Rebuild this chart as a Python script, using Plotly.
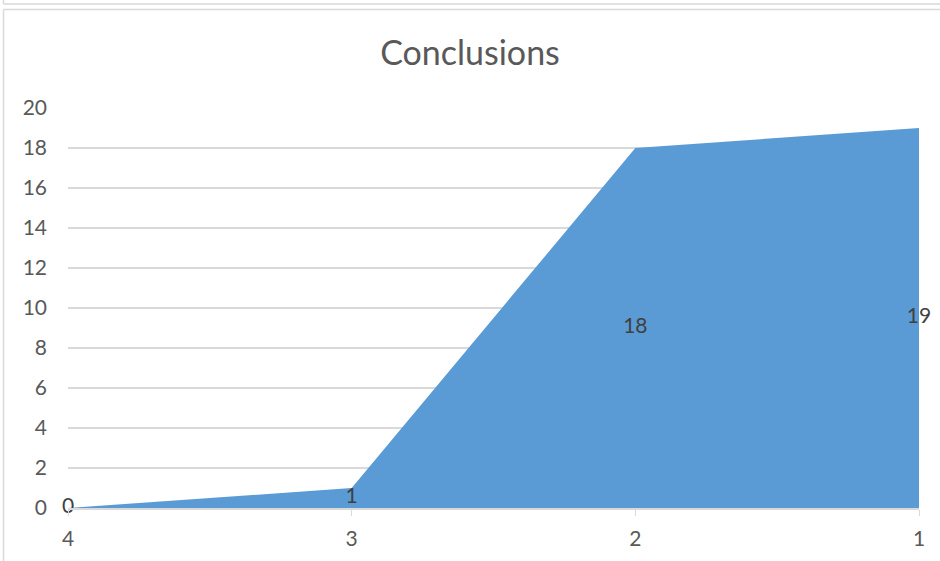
import plotly.graph_objects as go

# Category order along the x axis and the plotted values
categories = ["4", "3", "2", "1"]
values = [0, 1, 18, 19]
y_ticks = [0, 2, 4, 6, 8, 10, 12, 14, 16, 18, 20]

W, H = 940, 561
L, R, T, B = 68, 21, 108, 53
plot_w = W - L - R
plot_h = H - T - B

x_pos = list(range(len(categories)))

GRID = "#D9D9D9"
TEXT = "#595959"
FILL = "#5B9BD5"
FONT = "Lato, Calibri, 'Liberation Sans', sans-serif"


def px_x(px):
    return (px - L) / plot_w


def px_y(py):
    return (H - B - py) / plot_h


fig = go.Figure()
fig.add_trace(go.Scatter(
    x=x_pos, y=values, mode="lines", fill="tozeroy",
    line=dict(color=FILL, width=0), fillcolor=FILL,
    hoverinfo="skip", showlegend=False,
))
# Data labels sit at the vertical middle of the filled area
fig.add_trace(go.Scatter(
    x=x_pos, y=[v / 2 for v in values], mode="text",
    text=[str(v) for v in values], textposition="middle center",
    textfont=dict(family=FONT, size=21, color="#404040"),
    hoverinfo="skip", showlegend=False, cliponaxis=False,
))

shapes = [
    # outer chart frame
    dict(type="line", xref="paper", yref="paper", x0=px_x(3.5), x1=px_x(3.5),
         y0=px_y(9.5), y1=px_y(570), line=dict(color=GRID, width=1.5)),
    dict(type="line", xref="paper", yref="paper", x0=px_x(3.5), x1=px_x(950),
         y0=px_y(9.5), y1=px_y(9.5), line=dict(color=GRID, width=1.5)),
    dict(type="line", xref="paper", yref="paper", x0=px_x(3.5), x1=px_x(950),
         y0=px_y(4), y1=px_y(4), line=dict(color=GRID, width=1.5)),
    dict(type="line", xref="paper", yref="paper", x0=px_x(3.5), x1=px_x(3.5),
         y0=px_y(-5), y1=px_y(4), line=dict(color=GRID, width=1.5)),
]

fig.update_layout(
    width=W, height=H,
    margin=dict(l=L, r=R, t=T, b=B),
    paper_bgcolor="white", plot_bgcolor="white",
    title=dict(text="Conclusions", x=0.5, xanchor="center",
               y=1 - 53 / H, yanchor="middle",
               font=dict(family=FONT, size=34, color=TEXT)),
    xaxis=dict(range=[0, 3], tickmode="array", tickvals=x_pos, ticktext=categories,
               showgrid=False, zeroline=False, showline=True, linecolor=GRID,
               linewidth=1.5, ticks="outside", ticklen=6, tickcolor=GRID,
               tickfont=dict(family=FONT, size=21, color=TEXT), ticklabelstandoff=5),
    yaxis=dict(range=[0, 20], tickmode="array", tickvals=y_ticks,
               showgrid=True, gridcolor=GRID, gridwidth=1.5, zeroline=False,
               showline=False, ticks="", ticklabelstandoff=20,
               tickfont=dict(family=FONT, size=21, color=TEXT)),
    shapes=shapes,
)

fig.write_html("out.html")
